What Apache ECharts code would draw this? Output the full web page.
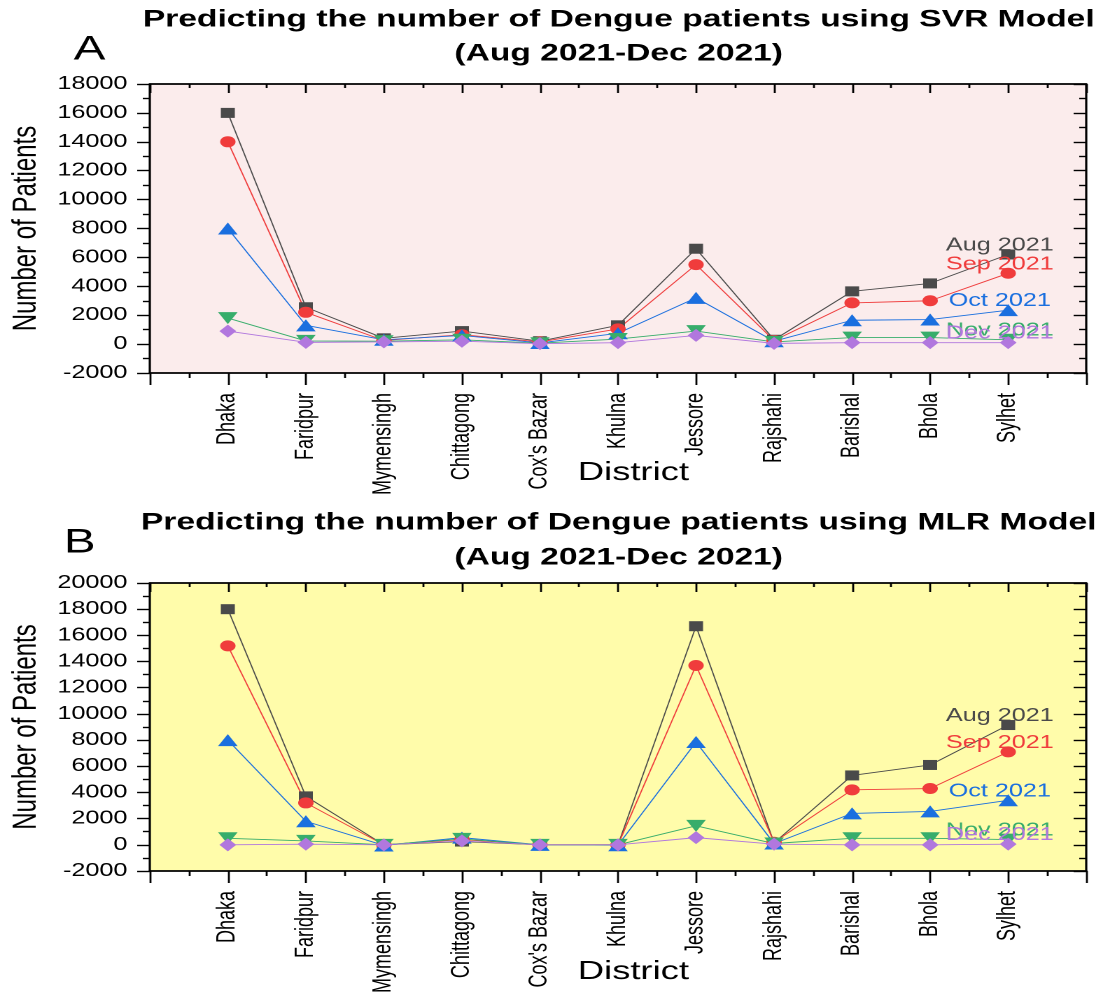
<!DOCTYPE html>
<html>
<head>
<meta charset="utf-8">
<title>Dengue SVR / MLR</title>
<script src="https://cdn.jsdelivr.net/npm/echarts@6/dist/echarts.min.js"></script>
<style>
	html,body{margin:0;padding:0;background:#fff;overflow:hidden;}
	/* the source picture is stretched sideways, so the chart is drawn narrow and widened */
	#main{width:798px;height:997px;transform:scaleX(1.39975);transform-origin:0 0;}
</style>
</head>
<body>
<div id="main"></div>
<script>
	var districts = ['Dhaka','Faridpur','Mymensingh','Chittagong',"Cox's Bazar",'Khulna','Jessore','Rajshahi','Barishal','Bhola','Sylhet'];
	var months = ['Aug 2021','Sep 2021','Oct 2021','Nov 2021','Dec 2021'];

	//SVR 模型
	var svrAug = [16000, 2550, 400, 900, 200, 1300, 6600, 300, 3650, 4200, 6200];
	var svrSep = [14000, 2200, 250, 650, 150, 1050, 5500, 250, 2850, 3000, 4900];
	var svrOct = [8000, 1300, 300, 600, 80, 750, 3200, 200, 1650, 1700, 2350];
	var svrNov = [1800, 220, 200, 300, 60, 350, 900, 150, 450, 450, 300];
	var svrDec = [900, 120, 150, 200, 30, 100, 600, 50, 100, 100, 100];

	//MLR 模型
	var mlrAug = [18000, 3700, 0, 250, 0, 0, 16700, 150, 5300, 6100, 9150];
	var mlrSep = [15200, 3200, 0, 400, 0, 0, 13700, 200, 4200, 4300, 7100];
	var mlrOct = [8000, 1800, -50, 550, 0, -30, 7850, 100, 2400, 2550, 3400];
	var mlrNov = [500, 300, 0, 450, 0, 0, 1450, 100, 500, 500, 400];
	var mlrDec = [0, 50, 0, 300, 0, 0, 550, 50, 0, 0, 50];

	var yTicks1 = [-2000, 18000];
	var yTicks2 = [-2000, 20000];

	var colorList = ['#4a4a4a','#f03c3c','#1a6fdf','#37ad6b','#b177de'];
	var symbolList = ['rect','circle','triangle','triangle','diamond'];
	var symbolSize = [[10,10],11,[14,12],[14,12],[12,13]];
	var symbolRotate = [0,0,0,180,0];
	var font = 'Liberation Sans, Arial, sans-serif';

	var myChart1 = echarts.init(document.getElementById('main'), null, {devicePixelRatio: 2});

	function buildData(vals, name, color){
		var serie = [];
		for (var i = 0; i < vals.length; i++) {
			var item = {value: [i + 1, vals[i]]};
			if (i == vals.length - 1) {
				item.label = {
					show: true, position: 'inside', offset: [-6, -9],
					formatter: name, color: color, fontSize: 18, fontFamily: font
				};
			}
			serie.push(item);
		}
		return serie;
	}

	function xAxes(g, nameGap){
		var tickStyle = {color:'#000', width:1.4};
		return [{
			type: 'value', gridIndex: g, position: 'bottom',
			min: 0, max: 12, interval: 1,
			axisLine: {show: true, onZero: false, lineStyle: {color:'#000', width:1.8}},
			axisTick: {show: true, length: 12, lineStyle: tickStyle},
			minorTick: {show: true, splitNumber: 2, length: 5, lineStyle: tickStyle},
			splitLine: {show: false},
			axisLabel: {
				rotate: 90, margin: 20, fontSize: 18, color: '#000', fontFamily: font,
				formatter: function(v){ return districts[v - 1] || ''; }
			},
			name: 'District', nameLocation: 'middle', nameGap: nameGap, nameMoveOverlap: false,
			nameTextStyle: {fontSize: 26, color: '#000', fontFamily: font, padding: [0,0,0,22]}
		},{
			type: 'value', gridIndex: g, position: 'top',
			min: 0, max: 12, interval: 1,
			axisLine: {show: true, onZero: false, lineStyle: {color:'#000', width:1.8}},
			axisTick: {show: true, inside: true, length: 9, lineStyle: tickStyle},
			minorTick: {show: true, splitNumber: 2, length: 4, lineStyle: tickStyle},
			splitLine: {show: false},
			axisLabel: {show: false}
		}];
	}

	function yAxes(g, range){
		var tickStyle = {color:'#000', width:1.4};
		return [{
			type: 'value', gridIndex: g, position: 'left',
			min: range[0], max: range[1], interval: 2000,
			axisLine: {show: true, onZero: false, lineStyle: {color:'#000', width:1.6}},
			axisTick: {show: true, length: 9, lineStyle: tickStyle},
			minorTick: {show: true, splitNumber: 2, length: 5, lineStyle: tickStyle},
			splitLine: {show: false},
			axisLabel: {
				margin: 16, fontSize: 18, color: '#000', fontFamily: font,
				formatter: function(v){ return '' + v; }
			},
			name: 'Number of Patients', nameLocation: 'middle', nameGap: 76, nameMoveOverlap: false,
			nameTextStyle: {fontSize: 24, color: '#000', fontFamily: font}
		},{
			type: 'value', gridIndex: g, position: 'right',
			min: range[0], max: range[1], interval: 2000,
			axisLine: {show: true, onZero: false, lineStyle: {color:'#000', width:1.6}},
			axisTick: {show: true, inside: true, length: 9, lineStyle: tickStyle},
			minorTick: {show: true, splitNumber: 2, length: 5, lineStyle: tickStyle},
			splitLine: {show: false},
			axisLabel: {show: false}
		}];
	}

	function buildSeries(g, sets){
		var list = [];
		for (var k = 0; k < sets.length; k++) {
			list.push({
				name: months[k], type: 'line',
				xAxisIndex: g * 2, yAxisIndex: g * 2,
				symbol: symbolList[k], symbolSize: symbolSize[k], symbolRotate: symbolRotate[k],
				itemStyle: {color: colorList[k]},
				lineStyle: {color: colorList[k], width: 0.9},
				data: buildData(sets[k], months[k], colorList[k])
			});
		}
		return list;
	}

	function titleText(x, y, txt, size, bold){
		return {
			type: 'text', x: x, y: y, z: 10,
			style: {
				text: txt, fill: '#000', fontSize: size, fontFamily: font,
				fontWeight: bold ? 'bold' : 'normal', align: 'center', verticalAlign: 'middle'
			}
		};
	}

	var option1 = {
		animation: false,
		grid: [
			{left: 107, right: 22, top: 84, height: 289, show: true, backgroundColor: '#fbecec', borderWidth: 0, outerBoundsMode: 'none'},
			{left: 107, right: 22, top: 583, height: 288, show: true, backgroundColor: '#fffcaa', borderWidth: 0, outerBoundsMode: 'none'}
		],
		xAxis: xAxes(0, 87).concat(xAxes(1, 88)),
		yAxis: yAxes(0, yTicks1).concat(yAxes(1, yTicks2)),
		graphic: [
			titleText(64, 50, 'A', 34, false),
			titleText(442, 20, 'Predicting the number of Dengue patients using SVR Model', 24, true),
			titleText(442, 54, '(Aug 2021-Dec 2021)', 24, true),
			titleText(57, 543, 'B', 34, false),
			titleText(442, 523, 'Predicting the number of Dengue patients using MLR Model', 24, true),
			titleText(442, 558, '(Aug 2021-Dec 2021)', 24, true)
		],
		series: buildSeries(0, [svrAug, svrSep, svrOct, svrNov, svrDec])
			.concat(buildSeries(1, [mlrAug, mlrSep, mlrOct, mlrNov, mlrDec]))
	};

	myChart1.setOption(option1);
</script>
</body>
</html>
